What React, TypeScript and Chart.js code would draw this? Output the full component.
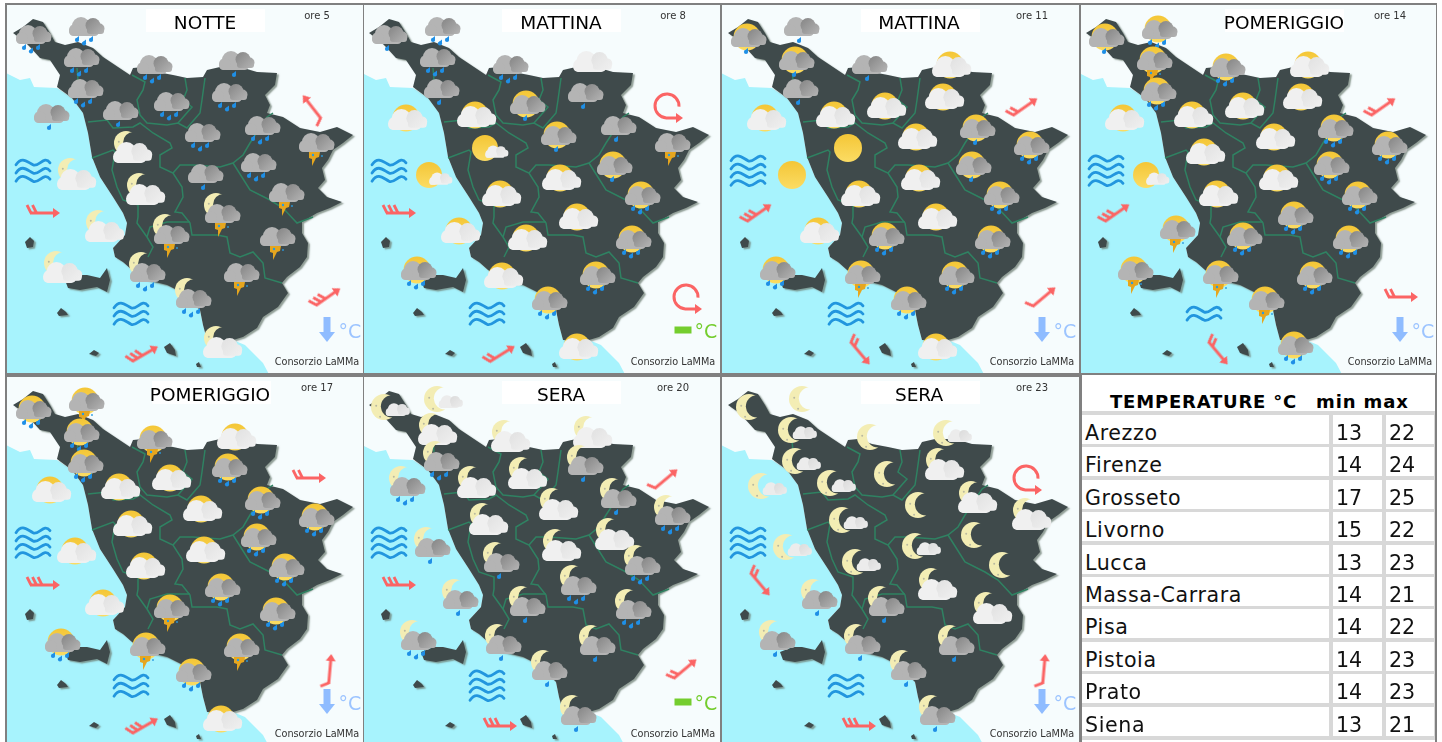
import React, { useEffect, useRef } from "react";
import { Chart, registerables } from "chart.js";

Chart.register(...registerables);

// ---------- map geometry (shared by all panels, in map units) ----------
const sea = [[0,70],[20,80],[30,78],[34,87],[57,88],[72,98],[83,113],[88,133],[92,157],[100,177],[113,197],[123,213],[127,223],[125,235],[113,248],[115,257],[123,262],[132,270],[147,280],[167,285],[183,293],[200,310],[203,325],[207,340],[233,340],[245,345],[263,363],[272,380],[0,380]];
const land = [[13,33],[23,27],[33,19],[43,22],[50,33],[55,42],[65,45],[78,42],[93,48],[103,57],[115,65],[130,75],[133,68],[143,67],[157,72],[173,75],[187,78],[203,77],[207,70],[220,67],[240,67],[257,72],[277,73],[275,85],[265,95],[270,105],[267,113],[283,117],[300,128],[320,132],[337,127],[353,135],[343,143],[333,150],[328,160],[322,168],[325,180],[318,188],[327,197],[342,202],[330,208],[317,213],[302,222],[302,233],[308,243],[307,257],[300,267],[287,277],[282,283],[288,293],[278,307],[263,317],[257,328],[243,337],[233,340],[217,340],[207,340],[203,325],[200,310],[183,293],[167,285],[147,280],[132,270],[123,262],[115,257],[113,248],[125,235],[127,223],[123,213],[113,197],[100,177],[92,157],[88,133],[83,113],[72,98],[57,87],[60,75],[50,60],[40,58],[30,47],[23,40]];
const elba = [[65,280],[78,275],[87,275],[100,278],[107,268],[110,280],[107,292],[97,287],[80,290],[68,288]];
const capraia = [[25,242],[30,237],[34,241],[33,247],[27,248]];
const giglio = [[57,313],[61,308],[66,312],[68,315],[59,316]];
const pianosa = [[89,354],[94,350],[99,353],[96,356]];
const giannutri = [[164,347],[170,343],[175,350],[176,356],[167,353]];
const formiche = [[196,364],[199,362],[201,367],[197,367]];
const islands = [elba, capraia, giglio, pianosa, giannutri, formiche];
const borders = [
  [[132,75],[145,82],[143,90],[137,100],[140,115],[147,123],[167,125],[178,123],[187,128],[200,113],[202,100],[205,78]],
  [[185,78],[187,90],[183,100],[192,107],[178,123]],
  [[88,122],[107,120],[113,128],[133,127],[140,123],[153,133],[170,143],[172,148],[160,155],[160,167],[173,173],[182,187],[183,197],[175,212],[182,213],[190,223],[192,235],[217,235],[227,237],[230,253],[240,257],[253,252],[263,263],[265,278],[282,283]],
  [[92,158],[113,150],[115,152],[112,170],[117,187],[123,200],[138,205],[138,217],[137,223],[147,237],[153,247],[148,257]],
  [[147,237],[150,227],[167,222],[190,222]],
  [[173,173],[180,165],[193,165],[220,167],[233,163],[243,155],[250,143],[267,117],[273,113]],
  [[233,163],[250,190],[270,200],[283,208],[297,223],[313,217]],
  [[77,68],[78,80]],
];

// ---------- weather: the same 28 forecast sites in each panel ----------
const sites = [[34,35],[87,27],[82,58],[86,89],[155,65],[237,61],[230,93],[172,102],[121,111],[52,114],[203,133],[263,126],[317,143],[133,148],[77,175],[206,174],[259,163],[146,190],[287,193],[223,213],[105,227],[172,234],[278,237],[63,268],[148,272],[242,273],[194,298],[223,343]];
const kinds05 = ["G3","G3","G3","G3","G3","G1","G3","G3","G1","G1","G3","G3","GB","MW","MW","G1","G3","MW","GB","MGB","MW","MGB","GB","MW","MG3","GB","MG3","MW"];
const kinds08 = ["G1","G3","G3","G1","G3","W","G1","SG1","SW","SW","SG1","G1","GB","Sc","Sc","SW","SG1","SW","SG3","SW","SW","SW","SG3","SG3","SW","SG3","SG3","SW"];
const kinds11 = ["SG1","G1","SG1","G1","G1","SW","SW","SW","SW","SW","SW","SG1","SG3","S","S","SW","SG1","SW","SG3","SW","SW","SG3","SG3","SG3","SGB","SG3","SG3","SW"];
const kinds14 = ["SG1","SG3","SGB","SG3","SG3","SW","SW","SW","SW","SW","SW","SG3","SG3","SW","Sc","SW","SG3","SW","SG3","SG3","SGB","SG3","SG3","SGB","SGB","SG3","SGB","SG3"];
const kinds17 = ["SG3","SGB","SG3","SG3","SGB","SW","SG3","SW","SW","SW","SW","SG3","SG3","SW","SW","SW","SG3","SW","SG3","SG3","SW","SGB","SG3","SG3","SGB","SGB","SG3","SW"];
const kinds20 = ["Mc","Mc","MW","MG3","MW","MW","MG1","MW","MW","MG3","MW","MG1","MG3","MW","MG1","MW","MW","MG1","MG3","MG3","MG1","MG1","MG3","MG3","MG1","MG1","MG1","MG1"];
const kinds23 = ["M","M","Mc","Mc","M","Mc","MW","M","Mc","Mc","M","MW","MW","Mc","Mc","Mc","M","Mc","M","MW","MG1","MG1","MW","MG1","MG1","MG1","MG1","MG1"];

// sea state: [x, y, wave lines]
const waveSites = [[33,171],[131,314]];
const waves05 = [3,3], waves08 = [3,3], waves11 = [4,3], waves14 = [4,2], waves17 = [4,3], waves20 = [4,4], waves23 = [4,3];

// wind: [x, y, direction in degrees (0 = north), barbs; barbs -1 = variable]
const wind05 = [[312,107,-38,1],[45,213,90,2],[328,297,55,3],[145,354,60,3]];
const wind08 = [[311,106,0,-1],[45,213,90,3],[330,297,0,-1],[146,354,58,2]];
const wind11 = [[310,107,55,2],[44,213,55,3],[329,297,50,1],[145,353,140,2]];
const wind14 = [[310,107,55,2],[44,213,55,3],[330,297,90,2],[145,353,140,2]];
const wind17 = [[311,106,90,2],[45,213,90,3],[330,297,5,1],[145,354,60,3]];
const wind20 = [[310,107,50,1],[45,213,90,3],[329,297,50,2],[146,354,90,3]];
const wind23 = [[311,106,0,-1],[45,212,140,2],[329,297,5,1],[146,354,90,3]];

const panelTitles = ["NOTTE","MATTINA","MATTINA","POMERIGGIO","POMERIGGIO","SERA","SERA"];
const panelHours = ["ore 5","ore 8","ore 11","ore 14","ore 17","ore 20","ore 23"];
const panelTemp = ["down","flat","down","down","down","flat","down"];
const panelKinds = [kinds05,kinds08,kinds11,kinds14,kinds17,kinds20,kinds23];
const panelWaves = [waves05,waves08,waves11,waves14,waves17,waves20,waves23];
const panelWind = [wind05,wind08,wind11,wind14,wind17,wind20,wind23];
const credit = "Consorzio LaMMa";

// temperature table
const cities = ["Arezzo","Firenze","Grosseto","Livorno","Lucca","Massa-Carrara","Pisa","Pistoia","Prato","Siena"];
const minT = [13,14,17,15,13,14,14,14,14,13];
const maxT = [22,24,25,22,23,21,22,23,23,21];

// ---------- panel frames on the page ----------
const frames = [
  { left: 7, top: 5, w: 356, h: 368, dx: 0, dy: 0 },
  { left: 364, top: 5, w: 356, h: 368, dx: 356, dy: 0 },
  { left: 722, top: 5, w: 357, h: 368, dx: 715, dy: 0 },
  { left: 1081, top: 5, w: 355, h: 368, dx: 1073, dy: 0 },
  { left: 7, top: 377, w: 356, h: 365, dx: 0, dy: 372 },
  { left: 364, top: 377, w: 356, h: 365, dx: 356, dy: 372 },
  { left: 722, top: 377, w: 357, h: 365, dx: 715, dy: 372 },
];
const titleCentres = [205,205,204,211,210,205,204];

// ---------- symbols ----------
const cache = new Map<string, HTMLCanvasElement>();
function sprite(key: string, size: number, draw: (c: CanvasRenderingContext2D) => void) {
  if (cache.has(key)) return cache.get(key)!;
  const cv = document.createElement("canvas");
  cv.width = size; cv.height = size;
  const c = cv.getContext("2d")!;
  c.translate(size / 2, size / 2);
  draw(c);
  cache.set(key, cv);
  return cv;
}
function sun(c: CanvasRenderingContext2D, x: number, y: number, r: number) {
  const g = c.createLinearGradient(0, y - r, 0, y + r);
  g.addColorStop(0, "#f4c636"); g.addColorStop(1, "#fbdc64");
  c.fillStyle = g;
  c.beginPath(); c.arc(x, y, r, 0, Math.PI * 2); c.fill();
}
function moon(c: CanvasRenderingContext2D, x: number, y: number, r: number) {
  c.save();
  const off = document.createElement("canvas");
  off.width = 80; off.height = 80;
  const o = off.getContext("2d")!;
  o.fillStyle = "#f3edb4";
  o.beginPath(); o.arc(40, 40, r, 0, Math.PI * 2); o.fill();
  o.globalCompositeOperation = "destination-out";
  o.beginPath(); o.arc(40 + r * 0.62, 40 - r * 0.05, r * 0.86, 0, Math.PI * 2); o.fill();
  o.globalCompositeOperation = "source-atop";
  o.fillStyle = "#b9b9a0";
  o.beginPath(); o.arc(40 - r * 0.6, 40 - r * 0.1, 1, 0, 7); o.arc(40 - r * 0.3, 40 + r * 0.75, 1, 0, 7); o.fill();
  c.drawImage(off, x - 40, y - 40);
  c.restore();
}
function cloud(c: CanvasRenderingContext2D, light: string, dark: string, s = 1, x = 0, y = 0) {
  c.save();
  c.translate(x, y); c.scale(s, s);
  c.fillStyle = light;
  c.beginPath();
  c.arc(-6, -1, 9, 0, 7); c.fill();
  c.beginPath();
  c.roundRect(-18, 0, 30, 9, 4.5); c.fill();
  c.beginPath(); c.arc(-12, 3, 6, 0, 7); c.fill();
  const g = c.createLinearGradient(0, -8, 16, 8);
  g.addColorStop(0, dark); g.addColorStop(1, light);
  c.fillStyle = g;
  c.beginPath(); c.arc(6, -1.5, 7.5, 0, 7); c.fill();
  c.beginPath(); c.arc(12.5, 1.5, 5, 0, 7); c.fill();
  c.beginPath(); c.roundRect(0, 1, 17, 6, 3); c.fill();
  c.restore();
}
const greyCloud = (c: CanvasRenderingContext2D) => cloud(c, "#b4b4b4", "#888888");
const whiteCloud = (c: CanvasRenderingContext2D) => cloud(c, "#f0f0f0", "#e2e2e2", 1.1, 0, 1);
function drop(c: CanvasRenderingContext2D, x: number, y: number) {
  c.fillStyle = "#1f8fe6";
  c.beginPath();
  c.arc(x, y, 2.1, 0, 7); c.fill();
  c.beginPath(); c.moveTo(x - 1.8, y - 1); c.lineTo(x + 2, y - 4); c.lineTo(x + 2, y); c.fill();
}
function drops(c: CanvasRenderingContext2D, n: number) {
  if (n === 1) drop(c, -3, 14);
  else { drop(c, -10, 13); drop(c, -3, 16.5); drop(c, 4, 13); }
}
function bolt(c: CanvasRenderingContext2D) {
  c.fillStyle = "#e6a61e";
  c.beginPath();
  c.moveTo(-8, 9); c.lineTo(3, 9); c.lineTo(2, 14); c.lineTo(-1, 15); c.lineTo(-5, 23);
  c.lineTo(-5, 16); c.lineTo(-8, 15); c.closePath(); c.fill();
  c.fillStyle = "#2a9be0";
  c.beginPath(); c.arc(-4, 12, 1.2, 0, 7); c.arc(5, 13, 0.9, 0, 7); c.fill();
}
function icon(kind: string) {
  return sprite("icon" + kind, 80, (c) => {
    const bg = kind[0];
    if (kind === "S") { sun(c, 0, 0, 14); return; }
    if (kind === "M") { moon(c, 0, 0, 13); return; }
    if (kind === "Sc") { sun(c, -4, 0, 13); cloud(c, "#f0f0f0", "#e2e2e2", 0.65, 8, 4); return; }
    if (kind === "Mc") { moon(c, -6, 0, 13); cloud(c, "#ececec", "#dcdcdc", 0.68, 8, 3); return; }
    const rest = bg === "S" || bg === "M" ? kind.slice(1) : kind;
    const white = rest[0] === "W";
    if (bg === "S") c.translate(0, white ? 5 : 3);
    if (bg === "M") c.translate(0, white ? 4 : 1);
    if (bg === "S") sun(c, -2, -1, 13.5);
    if (bg === "M") moon(c, -7, -9, 12);
    if (white) { whiteCloud(c); return; }
    greyCloud(c);
    if (rest[1] === "B") bolt(c);
    else drops(c, Number(rest[1]));
  });
}
function waveIcon(lines: number) {
  return sprite("wave" + lines, 70, (c) => {
    c.strokeStyle = "#2296de"; c.lineWidth = 2.8; c.lineCap = "round";
    const gap = 8.2;
    for (let i = 0; i < lines; i++) {
      const y = (i - (lines - 1) / 2) * gap;
      c.beginPath();
      c.moveTo(-17, y + 2);
      c.bezierCurveTo(-11, y - 7, -6, y - 1, 0, y + 2);
      c.bezierCurveTo(6, y + 5, 11, y - 8, 17, y);
      c.stroke();
    }
  });
}
function windIcon(barbs: number) {
  return sprite("wind" + barbs, 50, (c) => {
    c.strokeStyle = "#fb6464"; c.fillStyle = "#fb6464"; c.lineWidth = 3; c.lineCap = "butt";
    if (barbs < 0) {
      c.beginPath(); c.arc(0, 0, 12, 0.05, Math.PI / 2, true); c.lineTo(11, 12); c.stroke();
      c.beginPath(); c.moveTo(16, 12); c.lineTo(9, 7); c.lineTo(9, 17); c.closePath(); c.fill();
      return;
    }
    c.beginPath(); c.moveTo(0, 15); c.lineTo(0, -10); c.stroke();
    c.beginPath(); c.moveTo(0, -15); c.lineTo(-5, -8); c.lineTo(5, -8); c.closePath(); c.fill();
    for (let i = 0; i < barbs; i++) {
      const y = 14 - i * 5.5;
      c.beginPath(); c.moveTo(0, y); c.lineTo(-8, y + 4); c.stroke();
    }
  });
}
function tempIcon(kind: string) {
  return sprite("temp" + kind, 40, (c) => {
    if (kind === "flat") { c.fillStyle = "#74cd2e"; c.fillRect(-8.5, -3.5, 17, 7); return; }
    c.fillStyle = "#8fbcff";
    c.fillRect(-3.5, -13, 7, 17);
    c.beginPath(); c.moveTo(-8, 2); c.lineTo(8, 2); c.lineTo(0, 12); c.closePath(); c.fill();
  });
}

const pts = (a: number[][]) => a.map(([x, y]) => ({ x, y }));

// fills a dataset's own outline, using the points the scales have placed
const polygonFill = {
  id: "polygonFill",
  beforeDatasetDraw(chart: any, args: any) {
    const ds = chart.data.datasets[args.index];
    if (!ds.polygon) return;
    const c = chart.ctx;
    c.save();
    if (ds.polygonShadow) {
      c.shadowColor = ds.polygonShadow; c.shadowBlur = 1.5; c.shadowOffsetX = 2; c.shadowOffsetY = 1.5;
    }
    c.fillStyle = ds.polygon;
    c.beginPath();
    args.meta.data.forEach((p: any, i: number) => (i ? c.lineTo(p.x, p.y) : c.moveTo(p.x, p.y)));
    c.closePath(); c.fill();
    c.restore();
  },
};

function Panel({ index }: { index: number }) {
  const ref = useRef<HTMLCanvasElement>(null);
  const f = frames[index];
  useEffect(() => {
    const minX = f.left - f.dx, minY = f.top - f.dy;
    const poly = (a: number[][], color: string, shadow?: string) => ({
      data: pts(a), polygon: color, polygonShadow: shadow, showLine: false, pointRadius: 0,
    });
    const marks = (a: number[][], style: any, rotation: any = 0) => ({
      data: pts(a), showLine: false, pointRadius: 10, pointStyle: style, pointRotation: rotation,
      pointBackgroundColor: "transparent", pointBorderColor: "transparent",
    });
    const datasets: any[] = [
      poly(sea, "#a7f3fd"),
      ...islands.map((a) => poly(a, "#3f4a4b", "rgba(110,125,115,0.75)")),
      poly(land, "#3f4a4b", "rgba(110,125,115,0.75)"),
      ...borders.map((b) => ({ data: pts(b), showLine: true, borderColor: "#2f8262", borderWidth: 1.5, pointRadius: 0, tension: 0 })),
      marks(waveSites, panelWaves[index].map(waveIcon)),
      marks(panelWind[index], panelWind[index].map((w) => windIcon(w[3])), panelWind[index].map((w) => w[3] < 0 ? 0 : w[2])),
      marks([[327, 330]], [tempIcon(panelTemp[index])]),
      marks(sites, panelKinds[index].map(icon)),
    ];
    datasets.forEach((d, i) => (d.order = -i));
    const chart = new Chart(ref.current!, {
      type: "scatter",
      data: { datasets },
      plugins: [polygonFill],
      options: {
        animation: false, responsive: false, devicePixelRatio: 1, events: [],
        layout: { padding: 0, autoPadding: false },
        plugins: { legend: { display: false }, tooltip: { enabled: false }, title: { display: false } },
        scales: {
          x: { type: "linear", display: false, min: minX, max: minX + f.w },
          y: { type: "linear", display: false, reverse: true, min: minY, max: minY + f.h },
        },
      } as any,
    });
    return () => chart.destroy();
  }, []);
  const text = (x: number, y: number, s: React.CSSProperties, t: string) => (
    <div style={{ position: "absolute", left: x - f.left + f.dx - 100, top: y - f.top + f.dy - 15, width: 200, height: 30, textAlign: "center", whiteSpace: "nowrap", ...s }}>{t}</div>
  );
  const green = panelTemp[index] === "flat";
  return (
    <div style={{ position: "absolute", left: f.left, top: f.top, width: f.w, height: f.h, background: "#f6fcfd", overflow: "hidden" }}>
      <canvas ref={ref} width={f.w} height={f.h} style={{ display: "block", filter: "blur(0.45px)" }} />
      <div style={{ position: "absolute", left: 146 - f.left + f.dx + (index === 3 || index === 4 ? 6 : 0), top: 9 - f.top + f.dy + 0, width: 119, height: 23, background: "#fff" }} />
      {text(titleCentres[index], 23, { font: "18.5px/30px 'DejaVu Sans'", color: "#000" }, panelTitles[index])}
      {text(317, 16, { font: "10px/30px 'DejaVu Sans'", color: "#333" }, panelHours[index])}
      {text(317, 362, { font: "9.7px/30px 'DejaVu Sans'", color: "#333" }, credit)}
      {text(350, 331, { font: "19px/30px 'DejaVu Sans'", color: green ? "#74cd2e" : "#9cc4ff" }, "°C")}
    </div>
  );
}

function TempTable() {
  const rowTop = (i: number) => 415 + i * 32.4;
  const cell = (x: number, y: number, w: number, t: string | number, key: string, spacing = 0) => (
    <div key={key} style={{ position: "absolute", left: x, top: y, width: w, height: 29, background: "#fff", font: "20.6px/37px 'DejaVu Sans'", letterSpacing: spacing, color: "#111", paddingLeft: 3, boxSizing: "border-box", whiteSpace: "nowrap", overflow: "hidden" }}>{t}</div>
  );
  return (
    <div>
      <div style={{ position: "absolute", left: 1082, top: 411, width: 353, height: 329, background: "#d8d8d8" }} />
      <div style={{ position: "absolute", left: 1110, top: 390, font: "bold 18px/24px 'DejaVu Sans'", letterSpacing: 0.8, color: "#000", whiteSpace: "nowrap" }}>TEMPERATURE °C</div>
      <div style={{ position: "absolute", left: 1316, top: 390, font: "bold 18px/24px 'DejaVu Sans'", letterSpacing: 0.9, color: "#000", whiteSpace: "nowrap" }}>min max</div>
      {cities.map((c, i) => (
        <React.Fragment key={c}>
          {cell(1082, rowTop(i), 247, c, "c" + i, 0.6)}
          {cell(1333, rowTop(i), 49, minT[i], "n" + i)}
          {cell(1386, rowTop(i), 48, maxT[i], "x" + i)}
        </React.Fragment>
      ))}
    </div>
  );
}

export default function App() {
  return (
    <div style={{ position: "absolute", left: 0, top: 0, width: 1442, height: 742, overflow: "hidden", background: "#fff" }}>
      <div style={{ position: "absolute", left: 5, top: 3, width: 1432, height: 372, background: "#808080" }} />
      <div style={{ position: "absolute", left: 5, top: 375, width: 1076, height: 367, background: "#808080" }} />
      <div style={{ position: "absolute", left: 1080, top: 375, width: 2, height: 367, background: "#808080" }} />
      <div style={{ position: "absolute", left: 1435, top: 375, width: 2, height: 367, background: "#808080" }} />
      {frames.map((_, i) => <Panel key={i} index={i} />)}
      <TempTable />
    </div>
  );
}
